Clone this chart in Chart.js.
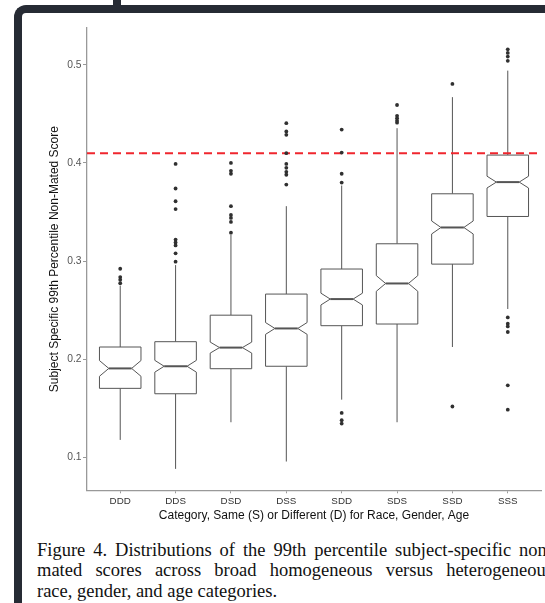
<!DOCTYPE html>
<html>
<head>
<meta charset="utf-8">
<script src="https://cdn.jsdelivr.net/npm/chart.js@4.4.0/dist/chart.umd.min.js"></script>
<style>
  html, body { margin: 0; padding: 0; width: 545px; height: 603px; overflow: hidden; background: #fff; }
  .frame { position: absolute; left: 14px; top: 5px; width: 620px; height: 700px;
           border-top: 8px solid #262b34; border-left: 8px solid #262b34; border-top-left-radius: 12px; }
  .tab { position: absolute; left: 113px; top: 0; width: 8px; height: 7px; background: #262b34; }
  #wrap { position: absolute; left: 22px; top: 13px; width: 523px; height: 517px; }
  .caption { position: absolute; left: 37px; top: 540px; width: 516px;
             font-family: 'Liberation Serif', 'Times New Roman', serif; font-size: 18.5px;
             line-height: 20.3px; color: #111; }
  .caption .j { text-align: justify; text-align-last: justify; white-space: nowrap; }
</style>
</head>
<body>
<div class="frame"></div>
<div class="tab"></div>
<div id="wrap"><canvas id="boxChart"></canvas></div>
<div class="caption">
  <div class="j">Figure 4. Distributions of the 99th percentile subject-specific non-</div>
  <div class="j">mated scores across broad homogeneous versus heterogeneous</div>
  <div>race, gender, and age categories.</div>
</div>
<script>
const categories = ['DDD', 'DDS', 'DSD', 'DSS', 'SDD', 'SDS', 'SSD', 'SSS'];
const whiskerLow = [0.118, 0.0885, 0.136, 0.096, 0.159, 0.136, 0.2126, 0.2513];
const q1 = [0.1705, 0.165, 0.1905, 0.193, 0.2343, 0.236, 0.297, 0.3455];
const medians = [0.1908, 0.193, 0.212, 0.2315, 0.2614, 0.2773, 0.3343, 0.3805];
const q3 = [0.2126, 0.218, 0.245, 0.2665, 0.292, 0.3177, 0.3686, 0.408];
const whiskerHigh = [0.275, 0.296, 0.327, 0.356, 0.377, 0.4354, 0.467, 0.494];
const notchHalf = [0.008, 0.006, 0.0056, 0.006, 0.006, 0.008, 0.0066, 0.006];
const outliers = [
  [0.2923, 0.2838, 0.2811, 0.2775],
  [0.399, 0.374, 0.361, 0.353, 0.322, 0.319, 0.316, 0.308, 0.2995],
  [0.400, 0.392, 0.389, 0.356, 0.347, 0.344, 0.340, 0.329],
  [0.4405, 0.432, 0.4286, 0.410, 0.399, 0.395, 0.391, 0.388, 0.378],
  [0.434, 0.4106, 0.389, 0.380, 0.1455, 0.138, 0.1346],
  [0.459, 0.448, 0.4456, 0.443, 0.441],
  [0.4805, 0.152],
  [0.5157, 0.512, 0.5083, 0.504, 0.2427, 0.2363, 0.2336, 0.2279, 0.1736, 0.1488]
];
const yTicks = [0.1, 0.2, 0.3, 0.4, 0.5];
const threshold = 0.41;

const sans = "'Liberation Sans', Arial, sans-serif";

// notched boxes + whiskers, drawn under the points
const notchedBoxes = {
  id: 'notchedBoxes',
  beforeDatasetsDraw(chart) {
    const { ctx, scales: { x, y } } = chart;
    ctx.save();
    ctx.strokeStyle = '#555';
    categories.forEach((c, i) => {
      const cx = x.getPixelForValue(i);
      const hw = x.getPixelForValue(i + 0.375) - cx;
      const nw = hw * 0.45;
      const l = cx - hw, r = cx + hw;
      const yLo = y.getPixelForValue(whiskerLow[i]);
      const yHi = y.getPixelForValue(whiskerHigh[i]);
      const y1 = y.getPixelForValue(q1[i]);
      const y3 = y.getPixelForValue(q3[i]);
      const ym = y.getPixelForValue(medians[i]);
      const nTop = y.getPixelForValue(medians[i] + notchHalf[i]);
      const nBot = y.getPixelForValue(medians[i] - notchHalf[i]);

      ctx.lineWidth = 1;
      ctx.beginPath();
      ctx.moveTo(cx, y3); ctx.lineTo(cx, yHi);
      ctx.moveTo(cx, y1); ctx.lineTo(cx, yLo);
      ctx.stroke();

      ctx.beginPath();
      ctx.moveTo(l, y3);
      ctx.lineTo(r, y3);
      ctx.lineTo(r, nTop);
      ctx.lineTo(r - nw, ym);
      ctx.lineTo(r, nBot);
      ctx.lineTo(r, y1);
      ctx.lineTo(l, y1);
      ctx.lineTo(l, nBot);
      ctx.lineTo(l + nw, ym);
      ctx.lineTo(l, nTop);
      ctx.closePath();
      ctx.fillStyle = '#fff';
      ctx.fill();
      ctx.stroke();

      ctx.lineWidth = 2;
      ctx.beginPath();
      ctx.moveTo(l + nw, ym);
      ctx.lineTo(r - nw, ym);
      ctx.stroke();
    });
    ctx.restore();
  }
};

const outlierPoints = outliers.flatMap((vals, i) => vals.map(v => ({ x: i, y: v })));

new Chart(document.getElementById('boxChart'), {
  type: 'scatter',
  data: {
    datasets: [
      {
        data: outlierPoints,
        pointRadius: 1.9,
        pointBackgroundColor: '#303030',
        pointBorderWidth: 0
      },
      {
        data: [{ x: -0.6, y: threshold }, { x: 7.6, y: threshold }],
        showLine: true,
        borderColor: '#f0262e',
        borderWidth: 2,
        borderDash: [8, 5],
        pointRadius: 0
      }
    ]
  },
  options: {
    responsive: true,
    maintainAspectRatio: false,
    animation: false,
    layout: { padding: { top: 15, right: 3, left: 0, bottom: 0 } },
    plugins: { legend: { display: false }, tooltip: { enabled: false } },
    scales: {
      x: {
        type: 'linear',
        min: -0.6,
        max: 7.6,
        afterBuildTicks: s => { s.ticks = categories.map((c, i) => ({ value: i })); },
        afterFit: s => { s.height = 39.7; },
        ticks: {
          callback: v => categories[v],
          autoSkip: false,
          maxRotation: 0,
          padding: 2,
          color: '#333',
          font: { family: sans, size: 9.8 }
        },
        grid: { drawOnChartArea: false, tickLength: 3, color: '#999' },
        border: { color: '#999', width: 1.3 },
        title: {
          display: true,
          text: 'Category, Same (S) or Different (D) for Race, Gender, Age',
          color: '#111',
          font: { family: sans, size: 12 },
          padding: { top: 0, bottom: 7.5 }
        }
      },
      y: {
        type: 'linear',
        min: 0.0667,
        max: 0.5374,
        afterBuildTicks: s => { s.ticks = yTicks.map(v => ({ value: v })); },
        afterFit: s => { s.width = 65; },
        ticks: {
          callback: v => v.toFixed(1),
          padding: 1.5,
          color: '#555',
          font: { family: sans, size: 10.3 }
        },
        grid: { drawOnChartArea: false, tickLength: 4, color: '#999' },
        border: { color: '#999', width: 1.3 },
        title: {
          display: true,
          text: 'Subject Specific 99th Percentile Non-Mated Score',
          color: '#111',
          font: { family: sans, size: 12 },
          padding: { top: 25.8, bottom: 0 }
        }
      }
    }
  },
  plugins: [notchedBoxes]
});
</script>
</body>
</html>
